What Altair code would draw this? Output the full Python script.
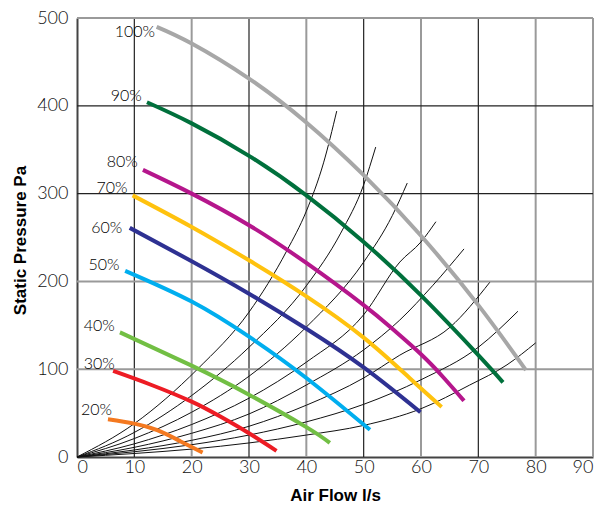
import altair as alt
import pandas as pd

# ---------------- data ----------------
fan_names = ["100%", "90%", "80%", "70%", "60%", "50%", "40%", "30%", "20%"]
fan_colors = ["#a7a7a7", "#00703c", "#b5168c", "#ffc20e", "#2e3192",
              "#00aeef", "#72bf44", "#ed1c24", "#f47920"]

fan_x = {
    "100%": [13.9, 20, 30, 40, 50, 60, 70, 78.3],
    "90%":  [12.2, 20, 30, 40, 50, 60, 70, 74.3],
    "80%":  [11.5, 20, 30, 40, 50, 55, 60, 64, 67.5],
    "70%":  [9.7, 20, 30, 40, 50, 58, 63.6],
    "60%":  [9.2, 20, 30, 40, 50, 59.9],
    "50%":  [8.4, 20, 30, 40, 51.1],
    "40%":  [7.5, 20, 30, 40, 44.1],
    "30%":  [6.3, 13, 20, 25, 30, 34.8],
    "20%":  [5.4, 10, 14, 18, 21.9],
}
fan_y = {
    "100%": [490, 471, 431, 381, 321, 252, 173, 99],
    "90%":  [404, 380, 343, 298, 245, 184, 116, 85],
    "80%":  [327, 300, 264, 221, 173, 146, 117, 90, 64],
    "70%":  [298, 262, 224, 183, 136, 90, 57],
    "60%":  [261, 223, 186, 146, 102, 51],
    "50%":  [212, 177, 137, 90, 31],
    "40%":  [142, 104, 71, 34, 16],
    "30%":  [98, 82, 63, 46, 27, 7],
    "20%":  [43, 38, 30.5, 18, 5],
}
label_x = [13.6, 11.3, 10.6, 8.8, 7.9, 7.4, 6.6, 6.6, 6.1]
label_y = [484, 411, 336, 306, 261, 219, 149, 106, 54]

sys_x = {
    "s1": [0, 10, 21, 30, 36.6, 40, 43, 45.3],
    "s2": [0, 10, 20, 30, 40, 46, 50, 52.1],
    "s3": [0, 10, 20, 30, 40, 50, 55, 57.6],
    "s4": [0, 10, 20, 30, 40, 50, 56.3, 60, 62.6],
    "s5": [0, 10, 20, 30, 40, 50, 56.3, 62, 67.5],
    "s6": [0, 10, 20, 30, 40, 50, 56.3, 65.1, 72],
    "s7": [0, 10, 20, 30, 40, 50, 60, 70, 76.9],
    "s8": [0, 10, 20, 30, 40, 50, 60, 68.5, 75, 80],
}
sys_y = {
    "s1": [0, 38, 100, 165, 235, 280, 335, 394],
    "s2": [0, 28, 70, 125, 195, 255, 310, 353],
    "s3": [0, 21, 51, 92, 148, 222, 275, 312],
    "s4": [0, 15, 37, 67, 108, 162, 222, 245, 268],
    "s5": [0, 11, 27, 49, 82, 122, 156, 195, 237],
    "s6": [0, 8, 19, 35, 59, 90, 116, 148, 199],
    "s7": [0, 6, 14, 25, 40, 60, 88, 125, 166],
    "s8": [0, 4, 9, 16, 25, 36, 55, 82, 105, 130],
}

vgrid_x = [10, 20, 30, 40, 50, 60, 70, 80, 90]
vgrid_kind = ["dark", "light", "dark", "light", "dark", "light", "dark", "light", "light"]
hgrid_y = [100, 200, 300, 400, 500]
hgrid_kind = ["light", "light", "dark", "dark", "light"]

x_ticks = [0, 10, 20, 30, 40, 50, 60, 70, 80, 90]
y_ticks = [0, 100, 200, 300, 400, 500]

# ---------------- tables ----------------
fan_rows = []
for name in fan_names:
    for i, (xv, yv) in enumerate(zip(fan_x[name], fan_y[name])):
        fan_rows.append({"fan": name, "x": xv, "y": yv, "o": i})
fan_df = pd.DataFrame(fan_rows)

sys_rows = []
for k in sys_x:
    for i, (xv, yv) in enumerate(zip(sys_x[k], sys_y[k])):
        sys_rows.append({"s": k, "x": xv, "y": yv, "o": i})
sys_df = pd.DataFrame(sys_rows)

lab_df = pd.DataFrame({"fan": fan_names, "x": label_x, "y": label_y})
vg_df = pd.DataFrame({"x": vgrid_x, "kind": vgrid_kind})
hg_df = pd.DataFrame({"y": hgrid_y, "kind": hgrid_kind})

W, H = 516, 439

xscale = alt.Scale(domain=[0, 90], nice=False, zero=False)
yscale = alt.Scale(domain=[0, 500], nice=False, zero=False)

tick_font = "Lato"
title_font = "Liberation Sans"

x_axis = alt.Axis(values=x_ticks, grid=False, ticks=False, title="Air Flow l/s",
                  labelFont=tick_font, labelFontSize=18, labelFontWeight=300,
                  labelColor="#111", labelPadding=1,
                  domainColor="#444", domainWidth=2,
                  titleFont=title_font, titleFontSize=17,
                  titleFontWeight="bold", titleColor="#000",
                  titleX=258, titleY=38, titleBaseline="middle")
y_axis = alt.Axis(values=y_ticks, grid=False, ticks=False, title="Static Pressure Pa",
                  labelFont=tick_font, labelFontSize=18, labelFontWeight=300,
                  labelColor="#111", labelPadding=9,
                  domainColor="#444", domainWidth=2,
                  titleFont=title_font, titleFontSize=17,
                  titleFontWeight="bold", titleColor="#000",
                  titleX=-57, titleY=222, titleBaseline="middle")

grid_color = alt.Scale(domain=["dark", "light"], range=["#222222", "#9a9a9a"])
grid_width = alt.Scale(domain=["dark", "light"], range=[1.2, 2])

vgrid = alt.Chart(vg_df).mark_rule().encode(
    x=alt.X("x:Q", scale=xscale, axis=x_axis),
    y=alt.value(0), y2=alt.value(H),
    color=alt.Color("kind:N", scale=grid_color, legend=None),
    strokeWidth=alt.StrokeWidth("kind:N", scale=grid_width, legend=None),
)
hgrid = alt.Chart(hg_df).mark_rule().encode(
    y=alt.Y("y:Q", scale=yscale, axis=y_axis),
    x=alt.value(0), x2=alt.value(W),
    color=alt.Color("kind:N", scale=grid_color, legend=None),
    strokeWidth=alt.StrokeWidth("kind:N", scale=grid_width, legend=None),
)

sys_lines = alt.Chart(sys_df).mark_line(color="#111", strokeWidth=1,
                                        interpolate="monotone").encode(
    x=alt.X("x:Q", scale=xscale),
    y=alt.Y("y:Q", scale=yscale),
    detail="s:N",
    order="o:Q",
)

fan_lines = alt.Chart(fan_df).mark_line(strokeWidth=4, interpolate="natural",
                                        strokeCap="butt").encode(
    x=alt.X("x:Q", scale=xscale),
    y=alt.Y("y:Q", scale=yscale),
    color=alt.Color("fan:N", scale=alt.Scale(domain=fan_names, range=fan_colors),
                    legend=None),
    detail="fan:N",
    order="o:Q",
)

labels = alt.Chart(lab_df).mark_text(align="right", baseline="middle",
                                     font="Lato", fontSize=16, fontWeight=300,
                                     color="#000").encode(
    x=alt.X("x:Q", scale=xscale),
    y=alt.Y("y:Q", scale=yscale),
    text="fan:N",
)

chart = alt.layer(vgrid, hgrid, sys_lines, fan_lines, labels).resolve_scale(
    color="independent", strokeWidth="independent"
).properties(
    width=W, height=H,
    padding={"left": 69, "top": 10, "right": 2, "bottom": 47},
    autosize=alt.AutoSizeParams(type="none"),
).configure_view(stroke=None)

chart.save("out.html", embed_options={"renderer": "svg", "actions": False})
